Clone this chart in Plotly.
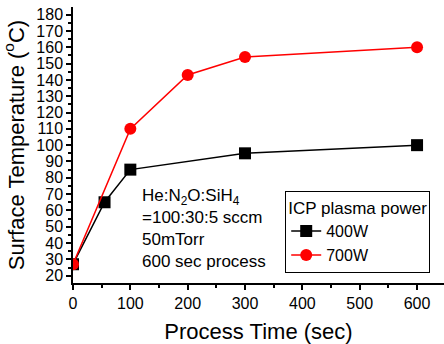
import plotly.graph_objects as go

# data
time_400 = [0, 55, 100, 300, 600]
temp_400 = [27, 65, 85, 95, 100]
time_700 = [0, 100, 200, 300, 600]
temp_700 = [27, 110, 143, 154, 160]
series_names = ["400W", "700W"]

font = "Liberation Sans, Arial, sans-serif"
XR = [0, 647]
YR = [15.5, 184.7]

fig = go.Figure()
fig.add_trace(go.Scatter(x=time_400, y=temp_400, name=series_names[0], mode="lines+markers",
                         line=dict(color="black", width=1.5),
                         marker=dict(symbol="square", size=12, color="black")))
fig.add_trace(go.Scatter(x=time_700, y=temp_700, name=series_names[1], mode="lines+markers",
                         line=dict(color="#ff0000", width=1.5),
                         marker=dict(symbol="circle", size=12, color="#ff0000")))

axis_common = dict(showline=True, linecolor="black", linewidth=1.5, showgrid=False, zeroline=False,
                   tickcolor="black", tickwidth=1.5)

fig.update_layout(
    width=444, height=344,
    margin=dict(l=73, r=0, t=7, b=61),
    paper_bgcolor="white", plot_bgcolor="white",
    font=dict(family=font, color="black"),
    showlegend=True,
    legend=dict(x=0.572, y=0.333, xanchor="left", yanchor="top",
                bordercolor="black", borderwidth=1, bgcolor="white",
                font=dict(size=16, family=font),
                title=dict(text="ICP plasma power", font=dict(size=17, family=font))),
    xaxis=dict(range=XR, tick0=0, dtick=100, ticks="outside", ticklen=5,
               minor=dict(dtick=50, ticks="outside", ticklen=3, tickcolor="black", tickwidth=1.5),
               tickfont=dict(size=16, family=font),
               title=dict(text="Process Time (sec)", font=dict(size=22, family=font), standoff=13),
               **axis_common),
    yaxis=dict(range=YR, tick0=0, dtick=10, ticks="outside", ticklen=5,
               minor=dict(dtick=5, ticks="outside", ticklen=3, tickcolor="black", tickwidth=1.5),
               tickfont=dict(size=16, family=font),
               title=dict(text="Surface Temperature (<sup>o</sup>C)", font=dict(size=22, family=font), standoff=6),
               **axis_common),
    xaxis2=dict(range=XR, overlaying="x", side="top", anchor="y", tick0=0, dtick=100,
                ticks="inside", ticklen=6, showticklabels=False,
                minor=dict(dtick=50, ticks="inside", ticklen=3, tickcolor="black", tickwidth=1.5),
                **axis_common),
    yaxis2=dict(range=YR, overlaying="y", side="right", anchor="x", tick0=0, dtick=10,
                ticks="inside", ticklen=5, showticklabels=False,
                minor=dict(dtick=5, ticks="inside", ticklen=3, tickcolor="black", tickwidth=1.5),
                **axis_common),
)

fig.add_annotation(xref="paper", yref="paper", x=0.181, y=0.197, xanchor="left", yanchor="middle",
                   align="left", showarrow=False,
                   text="He:N<sub>2</sub>O:SiH<sub>4</sub><br>=100:30:5 sccm<br>50mTorr<br>600 sec process",
                   font=dict(size=17, family=font, color="black"))

fig.write_html("out.html")
